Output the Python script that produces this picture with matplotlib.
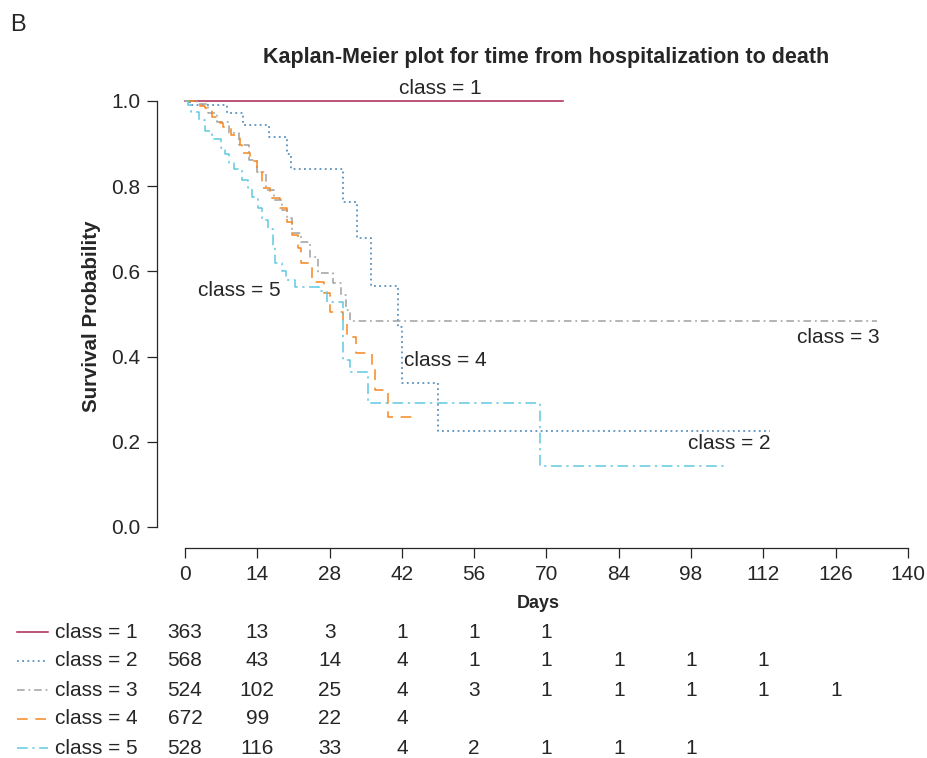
import matplotlib
matplotlib.use("Agg")
import matplotlib.pyplot as plt
from matplotlib.transforms import blended_transform_factory
from matplotlib.lines import Line2D

plt.rcParams['font.family'] = ['Liberation Sans', 'DejaVu Sans']
TXT = "#262626"
plt.rcParams['text.color'] = TXT
plt.rcParams['axes.labelcolor'] = TXT
plt.rcParams['xtick.color'] = TXT
plt.rcParams['ytick.color'] = TXT
plt.rcParams['axes.edgecolor'] = TXT

# ---- data ----
class1_t = [0, 73.2]
class1_s = [1.0, 1.0]

class2_t = [0, 1.0, 8.1, 11.2, 16.3, 19.7, 20.5, 30.6, 33.3, 36.0, 41.2, 42.0, 49.0, 113.3]
class2_s = [1.0, 0.99, 0.972, 0.944, 0.915, 0.875, 0.840, 0.763, 0.678, 0.566, 0.47, 0.338, 0.225, 0.225]

class3_t = [0, 2.3, 4.5, 6.2, 8.5, 10.5, 12.3, 14.0, 15.6, 17.2, 18.8, 19.8, 20.8, 22.5,
            24.2, 25.8, 28.6, 30.3, 31.2, 32.0, 134.0]
class3_s = [1.0, 0.993, 0.972, 0.951, 0.925, 0.897, 0.861, 0.834, 0.791, 0.768, 0.745, 0.725,
            0.69, 0.669, 0.634, 0.596, 0.573, 0.545, 0.51, 0.484, 0.484]

class4_t = [0, 3.0, 3.9, 5.2, 6.8, 7.4, 9.0, 10.6, 11.0, 12.6, 14.0, 15.0, 16.5, 18.4, 19.8,
            20.7, 21.9, 22.5, 24.6, 27.0, 28.0, 30.5, 31.4, 33.2, 36.2, 36.8, 39.4, 45.0]
class4_s = [1.0, 0.989, 0.983, 0.963, 0.948, 0.939, 0.92, 0.897, 0.878, 0.858, 0.834, 0.796,
            0.772, 0.749, 0.717, 0.685, 0.655, 0.62, 0.576, 0.55, 0.505, 0.479, 0.446, 0.408,
            0.37, 0.322, 0.258, 0.258]

class5_t = [0, 0.6, 1.2, 2.8, 3.8, 5.2, 7.0, 7.8, 8.5, 9.5, 11.0, 12.2, 13.0, 14.2, 15.0,
            16.0, 17.0, 17.5, 18.8, 19.5, 21.3, 26.0, 27.5, 30.6, 32.0, 35.4, 68.7, 105.0]
class5_s = [1.0, 0.99, 0.975, 0.955, 0.93, 0.91, 0.89, 0.875, 0.855, 0.84, 0.815, 0.795,
            0.775, 0.75, 0.72, 0.70, 0.66, 0.62, 0.60, 0.58, 0.563, 0.555, 0.528, 0.392,
            0.364, 0.291, 0.143, 0.143]

risk_times = [0, 14, 28, 42, 56, 70, 84, 98, 112, 126]
risk1 = [363, 13, 3, 1, 1, 1]
risk2 = [568, 43, 14, 4, 1, 1, 1, 1, 1]
risk3 = [524, 102, 25, 4, 3, 1, 1, 1, 1, 1]
risk4 = [672, 99, 22, 4]
risk5 = [528, 116, 33, 4, 2, 1, 1, 1]

labels = ["class = 1", "class = 2", "class = 3", "class = 4", "class = 5"]
x_ticks = [0, 14, 28, 42, 56, 70, 84, 98, 112, 126, 140]
y_ticks = [0.0, 0.2, 0.4, 0.6, 0.8, 1.0]

# ---- styles ----
colors = ["#a8244f", "#3f7fb2", "#a0a0a0", "#f5881f", "#5ec9e0"]
styles = ["-", (0, (1.2, 2.2)), (0, (5, 2.5, 1.2, 2.5)), (0, (7, 5)), (0, (7, 3, 1.5, 3))]
lw = 1.1

W, H = 928, 758
fig = plt.figure(figsize=(W / 100, H / 100), dpi=100)
ax_left, ax_right, ax_top, ax_bot = 157, 920, 84, 548
ax = fig.add_axes([ax_left / W, 1 - ax_bot / H, (ax_right - ax_left) / W, (ax_bot - ax_top) / H])

ppd = (908 - 185) / 140.0
ax.set_xlim(-(185 - ax_left) / ppd, 140 + (ax_right - 908) / ppd)
ppu = 527 - 101
ax.set_ylim(-(ax_bot - 527) / ppu, 1 + (101 - ax_top) / ppu)

series = [(class1_t, class1_s), (class2_t, class2_s), (class3_t, class3_s),
          (class4_t, class4_s), (class5_t, class5_s)]
for (t, s), c, ls in zip(series, colors, styles):
    ax.step(t, s, where='post', color=c, linestyle=ls, lw=lw)

for sp in ['top', 'right']:
    ax.spines[sp].set_visible(False)
ax.spines['left'].set_bounds(0, 1)
ax.spines['bottom'].set_bounds(0, 140)
for sp in ['left', 'bottom']:
    ax.spines[sp].set_linewidth(0.9)
ax.set_xticks(x_ticks)
ax.set_xticklabels([str(v) for v in x_ticks], fontsize=15)
ax.set_yticks(y_ticks)
ax.set_yticklabels([f"{v:.1f}" for v in y_ticks], fontsize=15)
ax.tick_params(direction='out', length=7, width=0.9, pad=5)

ax.set_xlabel("Days", fontsize=13, fontweight='bold', labelpad=8)
ax.set_ylabel("Survival Probability", fontsize=14.8, fontweight='bold', labelpad=7)

# curve labels
ax.text(49.4, 1.03, "class = 1", fontsize=15, ha='center', va='center')
ax.text(10.6, 0.554, "class = 5", fontsize=15, ha='center', va='center')
ax.text(126.5, 0.444, "class = 3", fontsize=15, ha='center', va='center')
ax.text(50.5, 0.392, "class = 4", fontsize=15, ha='center', va='center')
ax.text(105.3, 0.195, "class = 2", fontsize=15, ha='center', va='center')

# title and panel letter
tb = blended_transform_factory(ax.transData, fig.transFigure)
fig.text(70, 1 - 58 / H, "Kaplan-Meier plot for time from hospitalization to death",
         transform=tb, ha='center', va='center', fontsize=15.5, fontweight='bold')
fig.text(10 / W, 1 - 25 / H, "B", fontsize=17, ha='left', va='center')

# risk table
rows_y = [632, 661, 690, 719, 748]
risks = [risk1, risk2, risk3, risk4, risk5]
for i, (yy, r) in enumerate(zip(rows_y, risks)):
    yf = 1 - yy / H
    fig.add_artist(Line2D([17 / W, 48 / W], [yf, yf], color=colors[i], linestyle=styles[i],
                          lw=lw, transform=fig.transFigure))
    fig.text(55 / W, yf, labels[i], fontsize=15, ha='left', va='center')
    for tt, n in zip(risk_times, r):
        fig.text(tt, yf, str(n), transform=tb, fontsize=15, ha='center', va='center')

fig.savefig("out.png", dpi=100)
